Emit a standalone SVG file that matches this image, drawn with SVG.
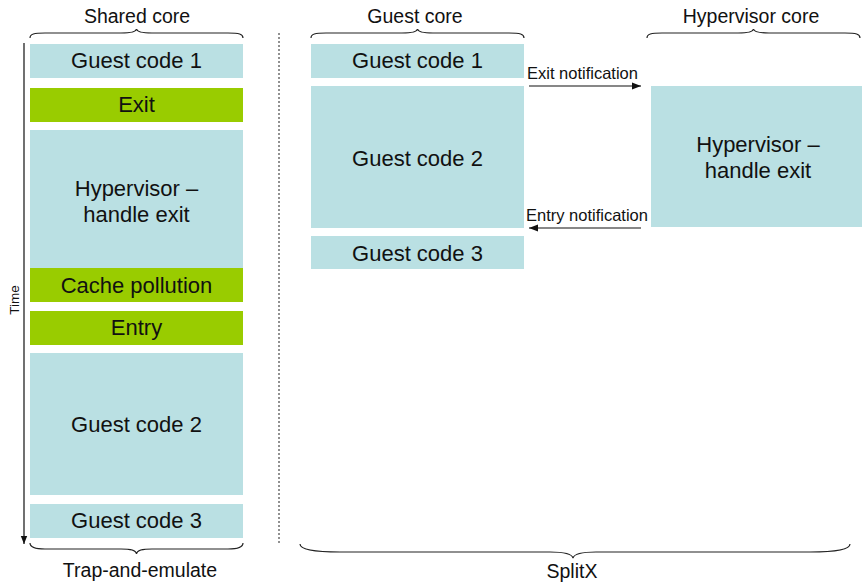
<svg xmlns="http://www.w3.org/2000/svg" width="862" height="583" viewBox="0 0 862 583">
<style>
.t{font-family:"Liberation Sans",Arial,sans-serif;fill:#111}
.bx{font-size:22px;text-anchor:middle}
.hd{font-size:19.5px;text-anchor:middle}
.nt{font-size:16.5px}
.blue{fill:#BAE0E3}
.green{fill:#99CC00}
.brace{fill:none;stroke:#222;stroke-width:1.2}
.conn{stroke:#111;stroke-width:1.2;fill:none}
</style>
<defs>
<marker id="ah" viewBox="0 0 10 10" refX="10" refY="5" markerWidth="8" markerHeight="8" markerUnits="userSpaceOnUse" orient="auto">
<path d="M0,1 L10,5 L0,9 Z" fill="#111"/>
</marker>
<marker id="ah2" viewBox="0 0 10 10" refX="10" refY="5" markerWidth="12" markerHeight="9" markerUnits="userSpaceOnUse" orient="auto">
<path d="M0,1 L10,5 L0,9 Z" fill="#111"/>
</marker>
</defs>

<g id="headers">
<text class="t hd" x="137" y="23">Shared core</text>
<path class="brace" d="M30,38 C30,34 34,33 45,33 L121,33 C131,33 136,32 136.5,29 C137,32 142,33 152,33 L228,33 C239,33 243,34 243,38"/>
<text class="t hd" x="415" y="23">Guest core</text>
<path class="brace" d="M311,38 C311,34 315,33 326,33 L402,33 C412,33 417,32 417.5,29 C418,32 423,33 433,33 L509,33 C520,33 524,34 524,38"/>
<text class="t hd" x="751" y="23">Hypervisor core</text>
<path class="brace" d="M647,38 C647,34 651,33 662,33 L738,33 C748,33 753,32 753.5,29 C754,32 759,33 769,33 L845,33 C856,33 860,34 860,38"/>
</g>

<g id="footers">
<path class="brace" d="M30,543 C30,547 34,549 45,549 L121,549 C131,549 136,550 136.5,554 C137,550 142,549 152,549 L228,549 C239,549 243,547 243,543"/>
<text class="t hd" x="140" y="577">Trap-and-emulate</text>
<path class="brace" d="M300,544 C300,549 310,552 340,552 L550,552 C566,552 572,554 573,558 C574,554 580,552 596,552 L810,552 C840,552 850,549 850,544"/>
<text class="t hd" x="572" y="578">SplitX</text>
</g>

<g id="time-axis">
<line class="conn" x1="24" y1="43" x2="24" y2="544" marker-end="url(#ah)"/>
<text class="t" font-size="13.5" text-anchor="middle" transform="translate(19,300) rotate(-90)">Time</text>
</g>

<line id="divider" x1="279" y1="33" x2="279" y2="544" stroke="#222" stroke-width="1" stroke-dasharray="2,2"/>

<g id="te-guest1"><rect class="blue" x="30" y="44" width="213" height="34"/><text class="t bx" x="136.5" y="68">Guest code 1</text></g>
<g id="te-exit"><rect class="green" x="30" y="88" width="213" height="34"/><text class="t bx" x="136.5" y="112">Exit</text></g>
<g id="te-hyp"><rect class="blue" x="30" y="130" width="213" height="138"/><text class="t bx" x="136.5" y="196">Hypervisor –</text><text class="t bx" x="136.5" y="222">handle exit</text></g>
<g id="te-cache"><rect class="green" x="30" y="268" width="213" height="34"/><text class="t bx" x="136.5" y="293">Cache pollution</text></g>
<g id="te-entry"><rect class="green" x="30" y="311" width="213" height="34"/><text class="t bx" x="136.5" y="335">Entry</text></g>
<g id="te-guest2"><rect class="blue" x="30" y="353" width="213" height="142"/><text class="t bx" x="136.5" y="432">Guest code 2</text></g>
<g id="te-guest3"><rect class="blue" x="30" y="504" width="213" height="34"/><text class="t bx" x="136.5" y="528">Guest code 3</text></g>

<g id="sx-guest1"><rect class="blue" x="311" y="44" width="213" height="34"/><text class="t bx" x="417.5" y="68">Guest code 1</text></g>
<g id="sx-guest2"><rect class="blue" x="311" y="86" width="213" height="142"/><text class="t bx" x="417.5" y="166">Guest code 2</text></g>
<g id="sx-guest3"><rect class="blue" x="311" y="236" width="213" height="33"/><text class="t bx" x="417.5" y="261">Guest code 3</text></g>
<g id="sx-hyp"><rect class="blue" x="651" y="86" width="214" height="141"/><text class="t bx" x="758" y="152">Hypervisor –</text><text class="t bx" x="758" y="178">handle exit</text></g>

<g id="connectors">
<line class="conn" x1="529" y1="86" x2="641" y2="86" marker-end="url(#ah2)"/>
<text class="t nt" x="527" y="79">Exit notification</text>
<line class="conn" x1="641" y1="228" x2="529" y2="228" marker-end="url(#ah2)"/>
<text class="t nt" x="526" y="221">Entry notification</text>
</g>
</svg>
